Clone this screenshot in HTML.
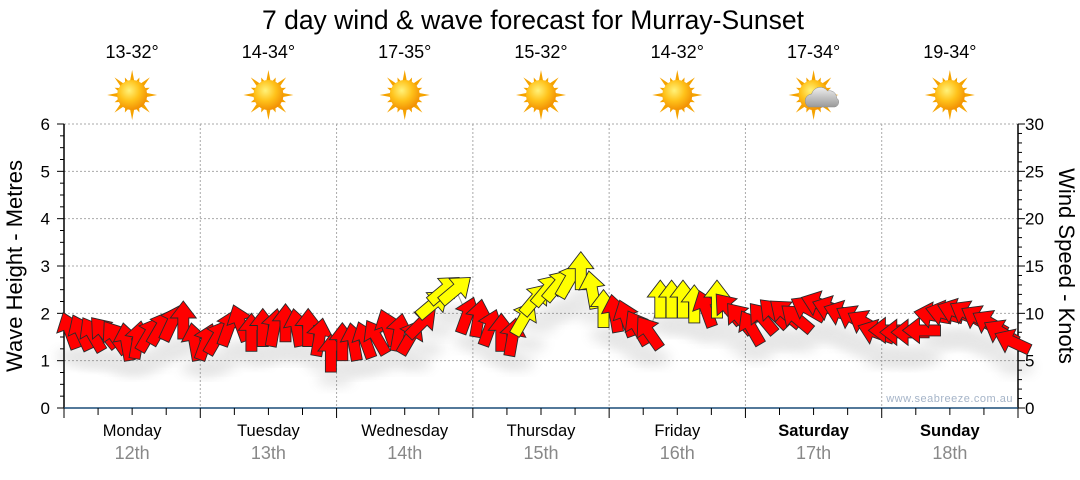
<!DOCTYPE html>
<html><head><meta charset="utf-8">
<style>
html,body{margin:0;padding:0;background:#fff;}
body{width:1080px;height:475px;overflow:hidden;font-family:"Liberation Sans",Arial,sans-serif;}
</style></head>
<body>
<svg id="chart" width="1080" height="475" viewBox="0 0 1080 475" xmlns="http://www.w3.org/2000/svg" font-family="Liberation Sans, Arial, sans-serif">
<defs>
<radialGradient id="sunG" cx="0.4" cy="0.35" r="0.7">
<stop offset="0" stop-color="#fff27a"/><stop offset="0.5" stop-color="#ffc21a"/><stop offset="1" stop-color="#f08a00"/>
</radialGradient>
<linearGradient id="cloudG" x1="0" y1="0" x2="0" y2="1">
<stop offset="0" stop-color="#eeeeee"/><stop offset="1" stop-color="#9a9a9a"/>
</linearGradient>
<filter id="shadow" x="-50%" y="-50%" width="200%" height="200%">
<feGaussianBlur stdDeviation="6"/>
</filter>
</defs>
<text x="533" y="29" font-size="26.5" text-anchor="middle" fill="#000">7 day wind &amp; wave forecast for Murray-Sunset</text>
<g id="grid"></g>
<g id="axes"></g>
<g id="header"></g>
<text x="1013" y="402" font-size="11" text-anchor="end" fill="#a5b4c8" letter-spacing="0.5">www.seabreeze.com.au</text>
<g id="shadows" opacity="0.15"></g>
<polyline id="windline" fill="none" stroke="#999" stroke-width="1"/>
<g id="arrows"></g>
<text transform="translate(22,266) rotate(-90)" font-size="22" text-anchor="middle" fill="#000">Wave Height - Metres</text>
<text transform="translate(1059,266) rotate(90)" font-size="22" text-anchor="middle" fill="#000">Wind Speed - Knots</text>
</svg>
<script>
const days = ["Monday","Tuesday","Wednesday","Thursday","Friday","Saturday","Sunday"];
const dates = ["12th","13th","14th","15th","16th","17th","18th"];
const temps = ["13-32°","14-34°","17-35°","15-32°","14-32°","17-34°","19-34°"];
const icons = ["sun","sun","sun","sun","sun","cloud","sun"];
const waveTicks = [0,1,2,3,4,5,6];
const windTicks = [0,5,10,15,20,25,30];
// wind every 2 hours from Monday 00:00
const windSpeed = [
8.2,8.0,7.8,8.0,7.5,7.0,7.2,7.8,8.5,9.0,9.3,7.0,
7.0,7.5,8.5,9.0,8.0,8.5,8.5,9.0,8.5,8.5,7.5,5.8,
7.0,7.0,7.2,7.5,8.5,8.0,7.5,9.0,11.0,12.5,12.5,9.8,
9.5,8.5,8.0,7.5,9.5,11.5,12.5,13.0,13.5,14.5,12.5,10.5,
10.0,9.5,8.5,8.0,11.5,11.5,11.5,11.0,10.5,11.5,10.5,9.5,
8.5,9.5,10.0,10.0,9.5,10.5,11.0,10.5,10.0,9.5,9.0,8.0,
8.2,8.0,8.0,8.2,9.8,10.0,10.2,10.0,9.5,9.0,8.0,7.0];
const windDir = [
-20,-25,-30,-40,-35,-10,10,30,30,25,0,-10,
20,30,20,-20,0,0,10,0,-10,0,10,0,
0,-10,-20,-30,-20,10,30,45,50,50,50,20,
10,20,0,10,30,40,40,40,30,0,-10,0,
-10,-20,-30,-35,0,0,0,0,-20,0,-40,-40,
-30,-40,-45,-50,-50,-60,-70,-70,-70,-60,-60,-70,
-90,-90,-90,-90,-80,-75,-70,-60,-60,-60,-60,-65];
const windColor = [
"R","R","R","R","R","R","R","R","R","R","R","R",
"R","R","R","R","R","R","R","R","R","R","R","R",
"R","R","R","R","R","R","R","R","Y","Y","Y","R",
"R","R","R","R","Y","Y","Y","Y","Y","Y","Y","Y",
"R","R","R","R","Y","Y","Y","Y","R","Y","R","R",
"R","R","R","R","R","R","R","R","R","R","R","R",
"R","R","R","R","R","R","R","R","R","R","R","R"];

const NS="http://www.w3.org/2000/svg";
const X0=64,X1=1018,Y0=408,Y1=124;
const dayW=(X1-X0)/7;
const xHour=h=>X0+h/168*(X1-X0);
const yWave=m=>Y0-m/6*(Y0-Y1);
const yKnot=k=>Y0-k/30*(Y0-Y1);
function mk(tag,attrs,parent){const e=document.createElementNS(NS,tag);for(const k in attrs)e.setAttribute(k,attrs[k]);parent.appendChild(e);return e;}
const grid=document.getElementById('grid'),axes=document.getElementById('axes'),header=document.getElementById('header');

waveTicks.forEach(v=>{ if(v>0){
 const l=mk('line',{x1:X0,x2:X1,y1:yWave(v),y2:yWave(v),stroke:'#aaa','stroke-dasharray':'2,2'},grid);
 
 
}});
for(let d=1;d<7;d++){
 const l=mk('line',{x1:X0+d*dayW,x2:X0+d*dayW,y1:Y1,y2:Y0,stroke:'#aaa','stroke-dasharray':'2,2'},grid);
 
 
}
mk('line',{x1:X0,x2:X0,y1:Y1,y2:Y0,stroke:'#000','stroke-width':1.5},axes);
mk('line',{x1:X1,x2:X1,y1:Y1,y2:Y0,stroke:'#000','stroke-width':1.5},axes);
mk('line',{x1:X0,x2:X1,y1:Y0,y2:Y0,stroke:'#1a4d78','stroke-width':1.5},axes);
for(let i=0;i<=24;i++){const y=yWave(i/4);const maj=i%4==0;
 mk('line',{x1:X0-(maj?7:4),x2:X0,y1:y,y2:y,stroke:'#000'},axes);}
waveTicks.forEach(v=>{const t=mk('text',{x:50,y:yWave(v)+6,'font-size':17,'text-anchor':'end',fill:'#000'},axes);t.textContent=v;
 
 });
for(let k=0;k<=30;k++){const y=yKnot(k);const maj=k%5==0;
 mk('line',{x1:X1,x2:X1+(maj?7:4),y1:y,y2:y,stroke:'#000'},axes);}
windTicks.forEach(v=>{const t=mk('text',{x:1025,y:yKnot(v)+6,'font-size':17,'text-anchor':'start',fill:'#000'},axes);t.textContent=v;
 
 });
for(let h=0;h<=168;h+=6){const x=xHour(h);const maj=h%24==0;
 mk('line',{x1:x,x2:x,y1:Y0,y2:Y0+(maj?10:7),stroke:'#000'},axes);}
days.forEach((d,i)=>{const cx=X0+(i+0.5)*dayW;
 const t=mk('text',{x:cx,y:436,'font-size':16.5,'text-anchor':'middle',fill:'#000','font-weight':(i>=5?'bold':'normal')},axes);t.textContent=d;
 
 
 const t2=mk('text',{x:cx,y:459,'font-size':18,'text-anchor':'middle',fill:'#888'},axes);t2.textContent=dates[i];
 
 
 const t3=mk('text',{x:cx,y:58,'font-size':18,'text-anchor':'middle',fill:'#000'},header);t3.textContent=temps[i];
 
 
 const g=mk('g',{transform:`translate(${cx},95)`},header);
 
 
 for(let r=0;r<16;r++){const a=r*22.5;const L=(r%2==0)?25:19;
  mk('polygon',{points:`-2.5,-12 0,${-L} 2.5,-12`,fill:'#f5a300',transform:`rotate(${a})`},g);}
 mk('circle',{r:15,fill:'url(#sunG)'},g);
 if(icons[i]=='cloud'){
  mk('path',{d:'M-8,12 a7,7 0 0 1 3,-13 a9,9 0 0 1 16,-3 a7,7 0 0 1 9,7 a5,5 0 0 1 -2,9 z',fill:'url(#cloudG)',stroke:'#888','stroke-width':0.5,transform:'translate(3,0)'},g);
 }
});
const arrows=document.getElementById('arrows'),shadows=document.getElementById('shadows');
const pts=[];
const shape="0,-19 13,-2 5.5,-2 5.5,19 -5.5,19 -5.5,-2 -13,-2";
windSpeed.forEach((k,i)=>{
 const x=xHour(i*2+1), y=yKnot(k);
 pts.push(x.toFixed(1)+','+y.toFixed(1));
 const s=mk('ellipse',{cx:x+4,cy:y+26,rx:18,ry:7,fill:'#555',filter:'url(#shadow)'},shadows);
 
 
 const p=mk('polygon',{points:shape,transform:`translate(${x.toFixed(1)},${y.toFixed(1)}) rotate(${windDir[i]})`,fill:windColor[i]=='Y'?'#ffff00':'#ff0000',stroke:'#2a2a2a','stroke-width':0.9},arrows);
 
 
});
document.getElementById('windline').setAttribute('points',pts.join(' '));
</script>
</body></html>
